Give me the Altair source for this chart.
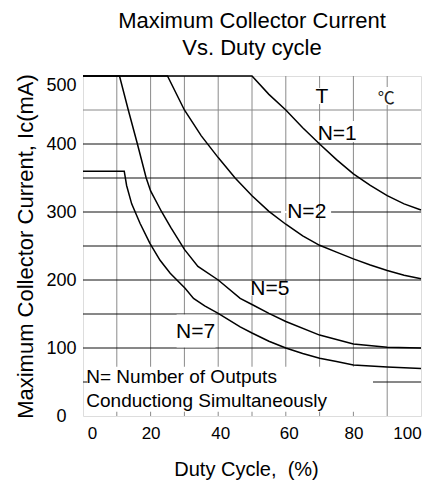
import altair as alt
import pandas as pd

FONT = "Liberation Sans"

# ---- curve data (duty cycle %, collector current mA) ----
duty_n1 = [0, 50, 55, 60, 65, 70, 75, 80, 85, 90, 95, 100]
ic_n1 = [500, 500, 473, 450, 424, 400, 377, 356, 339, 324, 312, 303]

duty_n2 = [0, 25, 30, 35, 40, 45, 50, 55, 60, 65, 70, 75, 80, 85, 90, 95, 100]
ic_n2 = [500, 500, 450, 412, 380, 350, 324, 301, 282, 265, 251, 241, 231, 222, 214, 207, 202]

duty_n5 = [0, 10.8, 13.4, 16.1, 18.7, 20, 23.3, 26, 30, 34, 40, 46.5, 50, 55, 60, 70, 80, 90, 100]
ic_n5 = [500, 500, 450, 400, 350, 331, 300, 277, 245, 220, 200, 173, 164, 151, 139, 119, 106, 101, 100]

duty_n7 = [0, 12.2, 12.9, 14.4, 16.9, 19.8, 22.8, 25.8, 30.2, 32.7, 36, 40, 46.5, 50, 55, 60, 65, 70, 75, 80, 90, 100]
ic_n7 = [360, 360, 339, 312, 283, 254, 229, 210, 188, 173, 162, 151, 131, 122, 110, 100, 92, 85, 80, 75, 72, 70]

series_names = ["N=1", "N=2", "N=5", "N=7"]
series_x = [duty_n1, duty_n2, duty_n5, duty_n7]
series_y = [ic_n1, ic_n2, ic_n5, ic_n7]

# ---- axes / grid ----
x_labels = [0, 20, 40, 60, 80, 100]
y_labels = [0, 100, 200, 300, 400, 500]
x_grid = [10, 20, 30, 40, 50, 60, 70, 80, 90]
y_grid = [50, 100, 150, 200, 250, 300, 350, 400, 450]
y_grid_color = ["#111111"] * 8 + ["#8a8a8a"]

# ---- annotations ----
note_text = ["N=1", "N=2", "N=5", "N=7", "T"]
note_x = [75.2, 66.2, 55.3, 33.3, 70.7]
note_y = [405.9, 290.7, 177.9, 114.3, 459.9]

unit_text = ["\u2103"]
unit_x = [89.7]
unit_y = [458.8]

box_lines = ["N= Number of Outputs", "Conductiong Simultaneously"]
box_x = [0.97, 0.97]
box_y = [48.1, 13.7]

# white backgrounds behind labels (data units)
mask_x1 = [69.9, 58.6, 49.7, 27.7, 68.6, 87.0, 1.3]
mask_x2 = [80.5, 73.4, 61.4, 39.2, 72.6, 92.3, 85.8]
mask_y1 = [403.0, 298.6, 177.2, 100.6, 458.8, 457.4, 6.3]
mask_y2 = [433.8, 301.4, 197.8, 149.2, 482.4, 483.8, 72.5]

rows = []
for name, xs, ys in zip(series_names, series_x, series_y):
    for xv, yv in zip(xs, ys):
        rows.append({"series": name, "duty": xv, "ic": yv})
curves = pd.DataFrame(rows)

vgrid = pd.DataFrame({"x": x_grid})
hgrid = pd.DataFrame({"y": y_grid, "c": y_grid_color})
notes = pd.DataFrame({"t": note_text, "x": note_x, "y": note_y})
units = pd.DataFrame({"t": unit_text, "x": unit_x, "y": unit_y})
boxtext = pd.DataFrame({"t": box_lines, "x": box_x, "y": box_y})
masks = pd.DataFrame({"x1": mask_x1, "x2": mask_x2, "y1": mask_y1, "y2": mask_y2})

x_scale = alt.Scale(domain=[0, 100], nice=False, zero=False)
y_scale = alt.Scale(domain=[0, 500], nice=False, zero=False)

x_axis = alt.Axis(
    values=x_labels,
    grid=False, ticks=False, tickSize=0, domain=False,
    labelFont=FONT, labelFontSize=17, labelColor="black", labelPadding=9,
    labelFlush=False, labelOverlap=False,
    labelOffset={"condition": [
        {"test": "datum.value === 0", "value": 9},
        {"test": "datum.value === 100", "value": -14},
        {"test": "datum.value === 40", "value": 2},
        {"test": "datum.value === 60", "value": 3}], "value": 0},
    title="Duty Cycle,\u00a0 (%)", titleFont=FONT, titleFontSize=20,
    titleFontWeight="normal", titleColor="black",
    titleX=163, titleY=59, titleBaseline="alphabetic",
)

y_axis = alt.Axis(
    values=y_labels,
    grid=False, ticks=False, tickSize=0, domain=False,
    labelFont=FONT, labelFontSize=18, labelColor="black", labelPadding=22,
    labelAlign="center", labelFlush=False, labelOverlap=False,
    labelBaseline={"condition": {"test": "datum.value === 500", "value": "top"}, "value": "middle"},
    title="Maximum Collector Current, Ic(mA)", titleFont=FONT, titleFontSize=22,
    titleFontWeight="normal", titleColor="black",
    titleX=-51, titleY=170, titleBaseline="alphabetic",
)


def X(field):
    return alt.X(field, scale=x_scale, axis=x_axis)


def Y(field):
    return alt.Y(field, scale=y_scale, axis=y_axis)


vgrid_layer = alt.Chart(vgrid).mark_rule(color="#8a8a8a", strokeWidth=1).encode(x=X("x:Q"))
hgrid_layer = alt.Chart(hgrid).mark_rule(strokeWidth=1).encode(
    y=Y("y:Q"), color=alt.Color("c:N", scale=None)
)

mask_layer = alt.Chart(masks).mark_rect(fill="white").encode(
    x=X("x1:Q"), x2="x2:Q", y=Y("y1:Q"), y2="y2:Q"
)

line_layer = alt.Chart(curves).mark_line(color="black", strokeWidth=1.5).encode(
    x=X("duty:Q"), y=Y("ic:Q"), detail="series:N"
)

note_layer = alt.Chart(notes).mark_text(
    font=FONT, fontSize=21, color="black", align="center", baseline="alphabetic"
).encode(x=X("x:Q"), y=Y("y:Q"), text="t:N")

unit_layer = alt.Chart(units).mark_text(
    font="Noto Sans CJK SC", fontSize=17, color="#222222", align="center", baseline="alphabetic"
).encode(x=X("x:Q"), y=Y("y:Q"), text="t:N")

box_layer = alt.Chart(boxtext).mark_text(
    font=FONT, fontSize=19, color="black", align="left", baseline="alphabetic"
).encode(x=X("x:Q"), y=Y("y:Q"), text="t:N")

chart = alt.layer(
    vgrid_layer, hgrid_layer, mask_layer, line_layer, note_layer, unit_layer, box_layer
).properties(
    width=338,
    height=340,
    padding={"left": 75, "top": 68, "right": 1, "bottom": 64},
    autosize=alt.AutoSizeParams(type="none"),
    title=alt.TitleParams(
        text=["Maximum Collector Current", "Vs. Duty cycle"],
        font=FONT, fontSize=22, fontWeight="normal", lineHeight=27,
        offset=13, anchor="middle", frame="group", color="black",
    ),
).configure_view(stroke="black", strokeWidth=1.5).configure(background="white")

chart.save("out.html", embed_options={"renderer": "svg", "actions": False})
